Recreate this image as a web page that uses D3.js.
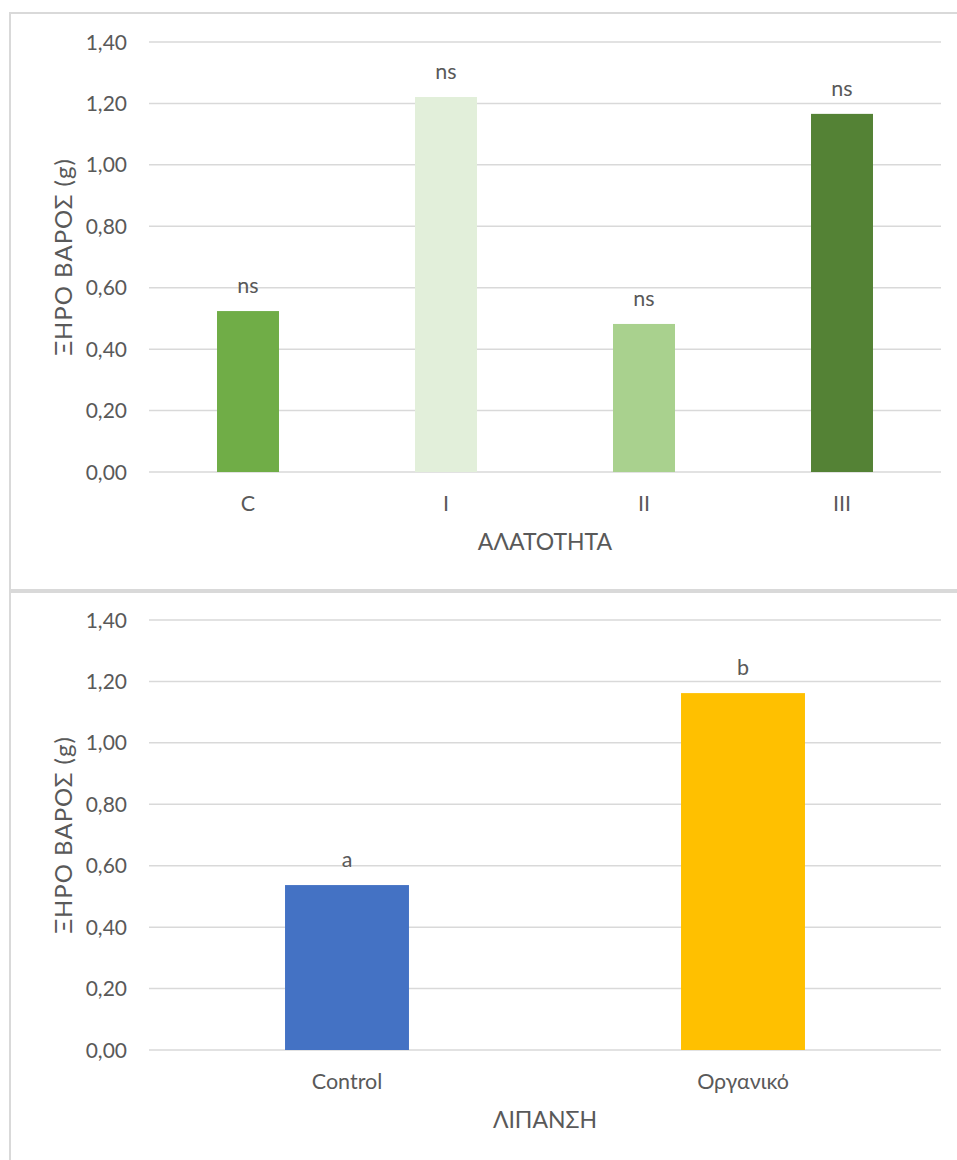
<!DOCTYPE html>
<html>
<head>
<meta charset="utf-8">
<script src="https://cdn.jsdelivr.net/npm/d3@7"></script>
<style>
  html, body { margin: 0; padding: 0; background: #fff; }
  text { font-family: Lato, "Open Sans", sans-serif; fill: #595959; }
</style>
</head>
<body>
<svg id="chart" width="957" height="1160"></svg>
<script>
// ---- data ----
const salinityCategories = ["C", "I", "II", "III"];
const salinityValues = [0.524, 1.221, 0.482, 1.166];
const salinityLabels = ["ns", "ns", "ns", "ns"];
const salinityColors = ["#70AD47", "#E2EFDA", "#A9D18E", "#548235"];

const fertCategories = ["Control", "Οργανικό"];
const fertValues = [0.537, 1.162];
const fertLabels = ["a", "b"];
const fertColors = ["#4472C4", "#FFC000"];

const yTicks = [0, 0.2, 0.4, 0.6, 0.8, 1.0, 1.2, 1.4];
const yTitle = "ΞΗΡΟ ΒΑΡΟΣ (g)";
const xTitles = ["ΑΛΑΤΟΤΗΤΑ", "ΛΙΠΑΝΣΗ"];

const svg = d3.select("#chart");
const fmt = v => v.toFixed(2).replace(".", ",");

function panel(opts) {
  const { frameTop, frameBottom, plotTop, plotBottom, cats, vals, labels, colors, xTitle } = opts;
  const left = 149, right = 941;
  svg.append("rect")
    .attr("x", 10).attr("y", frameTop)
    .attr("width", 960).attr("height", frameBottom - frameTop)
    .attr("fill", "none").attr("stroke", "#D9D9D9").attr("stroke-width", 2);

  const y = d3.scaleLinear().domain([0, 1.4]).range([plotBottom, plotTop]);
  const x = d3.scaleBand().domain(cats).range([left, right]).paddingInner(0.687).paddingOuter(0.3435);

  svg.append("g").selectAll("line").data(yTicks).join("line")
    .attr("x1", left).attr("x2", right)
    .attr("y1", d => y(d)).attr("y2", d => y(d))
    .attr("stroke", "#D9D9D9").attr("stroke-width", 1.5);

  const yAxis = d3.axisLeft(y).tickValues(yTicks).tickFormat(fmt).tickSize(0).tickPadding(0);
  const gy = svg.append("g").attr("transform", `translate(127,0)`).call(yAxis);
  gy.select(".domain").remove();
  gy.selectAll("text").style("font-size", "21px").style("font-family", "Lato, 'Open Sans', sans-serif")
    .attr("fill", "#595959").attr("dy", "0.34em");

  svg.append("g").selectAll("rect").data(cats).join("rect")
    .attr("x", d => x(d))
    .attr("width", x.bandwidth())
    .attr("y", (d, i) => y(vals[i]))
    .attr("height", (d, i) => y(0) - y(vals[i]))
    .attr("fill", (d, i) => colors[i]);

  svg.append("g").selectAll("text").data(cats).join("text")
    .attr("x", d => x(d) + x.bandwidth() / 2)
    .attr("y", (d, i) => y(vals[i]) - 18)
    .attr("text-anchor", "middle")
    .style("font-size", "21.5px")
    .text((d, i) => labels[i]);

  const xAxis = d3.axisBottom(x).tickSize(0).tickPadding(0);
  const gx = svg.append("g").attr("transform", `translate(0,${plotBottom})`).call(xAxis);
  gx.select(".domain").remove();
  gx.selectAll("text").style("font-size", "21.5px").style("font-family", "Lato, 'Open Sans', sans-serif")
    .attr("fill", "#595959").attr("dy", null).attr("y", 39);

  svg.append("text")
    .attr("x", (left + right) / 2).attr("y", plotBottom + 78)
    .attr("text-anchor", "middle").style("font-size", "23px")
    .text(xTitle);
  svg.append("text")
    .attr("transform", `translate(72,${(plotTop + plotBottom) / 2}) rotate(-90)`)
    .attr("text-anchor", "middle").style("font-size", "24px").style("letter-spacing", "1px")
    .text(yTitle);
}

panel({ frameTop: 13, frameBottom: 590, plotTop: 42, plotBottom: 472,
  cats: salinityCategories, vals: salinityValues, labels: salinityLabels, colors: salinityColors, xTitle: xTitles[0] });
panel({ frameTop: 592, frameBottom: 1170, plotTop: 620, plotBottom: 1050,
  cats: fertCategories, vals: fertValues, labels: fertLabels, colors: fertColors, xTitle: xTitles[1] });
</script>
</body>
</html>
